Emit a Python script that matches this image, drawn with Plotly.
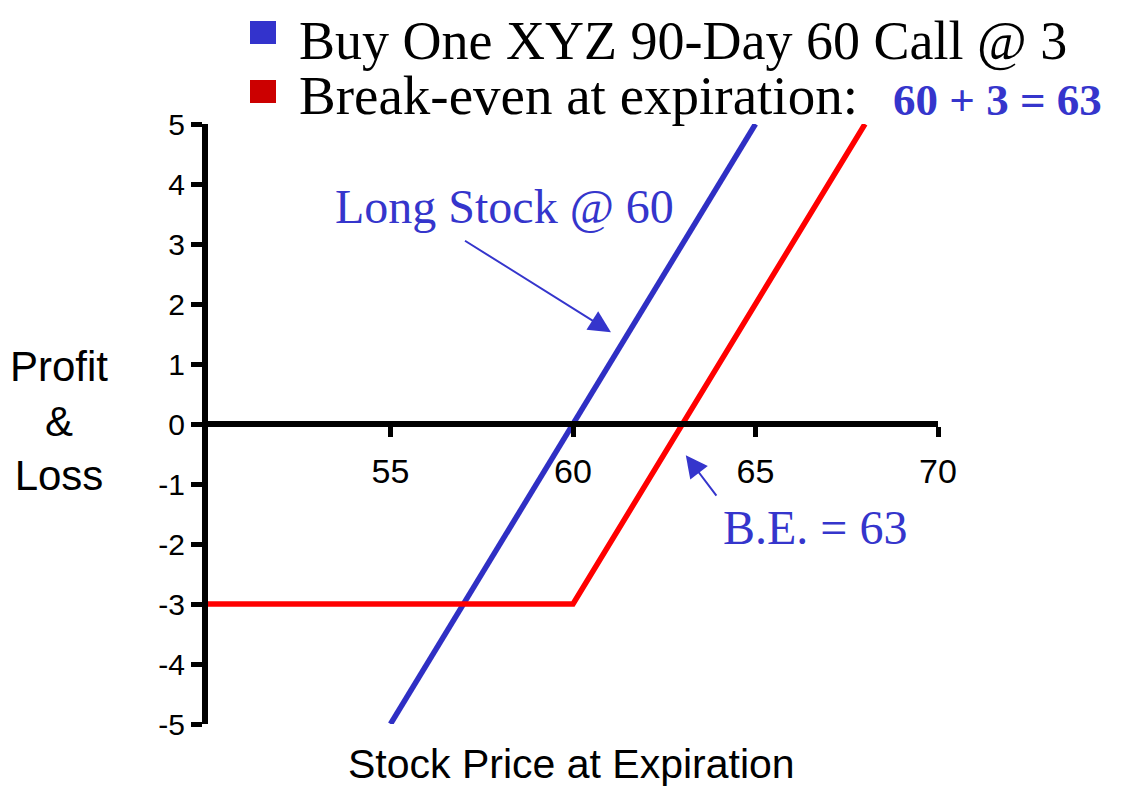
import plotly.graph_objects as go

# ---- data ----
long_stock_price = [55, 65]
long_stock_pl = [-5, 5]
call_price = [50, 60, 68]
call_pl = [-3, -3, 5]

x_tick_vals = [55, 60, 65, 70]
x_tick_text = ["55", "60", "65", "70"]
y_tick_vals = [5, 4, 3, 2, 1, 0, -1, -2, -3, -4, -5]
y_tick_text = ["5", "4", "3", "2", "1", "0", "-1", "-2", "-3", "-4", "-5"]

legend_line1 = "Buy One XYZ 90-Day 60 Call @ 3"
legend_line2 = "Break-even at expiration:"
legend_calc = "60 + 3 = 63"
long_label = "Long Stock @ 60"
be_label = "B.E. = 63"
y_title = "Profit<br>&<br>Loss"
x_title = "Stock Price at Expiration"

BLUE_LINE = "#2F2FC4"
BLUE_TEXT = "#3535CC"
RED_LINE = "#FF0000"
SERIF = "Liberation Serif, Times New Roman, serif"
SANS = "Liberation Sans, Arial, sans-serif"

# page body margin (8px) shifts the figure; compensate in margins
OFF = 8
L, T, R, B = 208 - OFF, 124 - OFF, 1122 - 938 + OFF, 787 - 724 + OFF


def px_x(px):
    return (px - 208) / 730


def px_y(py):
    return (724 - py) / 600


fig = go.Figure()
fig.add_trace(go.Scatter(x=long_stock_price, y=long_stock_pl, mode="lines",
                         line=dict(color=BLUE_LINE, width=5.5), showlegend=False,
                         hoverinfo="skip"))
fig.add_trace(go.Scatter(x=call_price, y=call_pl, mode="lines",
                         line=dict(color=RED_LINE, width=5.5), showlegend=False,
                         hoverinfo="skip"))

fig.update_layout(
    width=1122, height=787,
    margin=dict(l=L, r=R, t=T, b=B),
    paper_bgcolor="white", plot_bgcolor="white",
    showlegend=False,
    xaxis=dict(range=[50, 70], tickvals=x_tick_vals, ticktext=x_tick_text,
               anchor="free", position=0.5, showline=True, linewidth=6,
               linecolor="black", ticks="outside", ticklen=10, tickwidth=5,
               tickcolor="black", showgrid=False, zeroline=False,
               ticklabelstandoff=5,
               tickfont=dict(family=SANS, size=34, color="black")),
    yaxis=dict(range=[-5, 5], tickvals=y_tick_vals, ticktext=y_tick_text,
               showline=True, linewidth=6, linecolor="black", ticks="outside",
               ticklen=11, tickwidth=5, tickcolor="black", showgrid=False,
               zeroline=False,
               tickfont=dict(family=SANS, size=30, color="black")),
)

annotations = [
    # arrows
    dict(x=61.04, y=1.53, ax=57.0, ay=3.07, xref="x", yref="y", axref="x", ayref="y",
         text="", showarrow=True, arrowhead=2, arrowsize=2.2, arrowwidth=2,
         arrowcolor=BLUE_TEXT),
    dict(x=63.09, y=-0.52, ax=63.96, ay=-1.22, xref="x", yref="y", axref="x", ayref="y",
         text="", showarrow=True, arrowhead=2, arrowsize=2.2, arrowwidth=2,
         arrowcolor=BLUE_TEXT),
    # labels
    dict(x=58.11, y=3.62, xref="x", yref="y", xanchor="center", yanchor="middle",
         text=long_label, showarrow=False,
         font=dict(family=SERIF, size=48, color=BLUE_TEXT)),
    dict(x=66.64, y=-1.73, xref="x", yref="y", xanchor="center", yanchor="middle",
         text=be_label, showarrow=False,
         font=dict(family=SERIF, size=48, color=BLUE_TEXT)),
    dict(x=px_x(59), y=px_y(421), xref="paper", yref="paper",
         xanchor="center", yanchor="middle", text=y_title, showarrow=False,
         font=dict(family=SANS, size=42, color="black")),
    dict(x=px_x(571), y=px_y(764), xref="paper", yref="paper",
         xanchor="center", yanchor="middle", text=x_title, showarrow=False,
         font=dict(family=SANS, size=41, color="black")),
    # legend text
    dict(x=px_x(297), y=px_y(41), xref="paper", yref="paper",
         xanchor="left", yanchor="middle", text=legend_line1, showarrow=False,
         font=dict(family=SERIF, size=54, color="black")),
    dict(x=px_x(297), y=px_y(95), xref="paper", yref="paper",
         xanchor="left", yanchor="middle", text=legend_line2, showarrow=False,
         font=dict(family=SERIF, size=55, color="black")),
    dict(x=px_x(891), y=px_y(100), xref="paper", yref="paper",
         xanchor="left", yanchor="middle", text="<b>" + legend_calc + "</b>",
         showarrow=False,
         font=dict(family=SERIF, size=45, color=BLUE_TEXT)),
]
fig.update_layout(annotations=annotations)

# legend squares
fig.add_shape(type="rect", xref="paper", yref="paper",
              x0=px_x(250), x1=px_x(276), y0=px_y(44), y1=px_y(21),
              fillcolor="#3333CC", line=dict(width=0))
fig.add_shape(type="rect", xref="paper", yref="paper",
              x0=px_x(250), x1=px_x(276), y0=px_y(103), y1=px_y(80),
              fillcolor="#CC0000", line=dict(width=0))

fig.write_html("out.html")
